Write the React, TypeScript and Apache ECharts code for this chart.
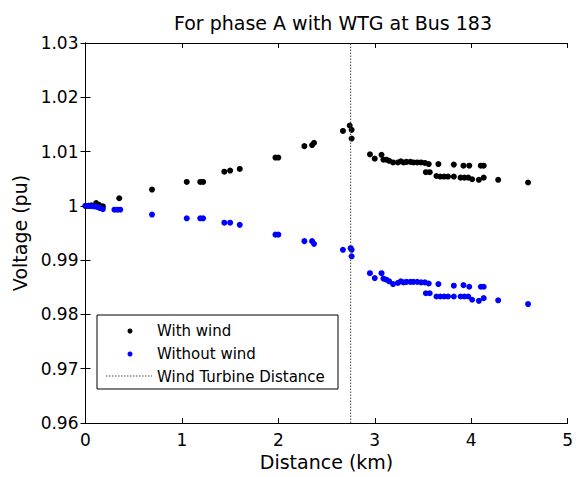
import React, { useEffect, useRef } from "react";
import * as echarts from "echarts";

const titleText = "For phase A with WTG at Bus 183";
const xTitle = "Distance (km)";
const yTitle = "Voltage (pu)";
const turbineDistance = 2.75;

const distWind = [
  0.0, 0.03, 0.06, 0.11, 0.14, 0.18, 0.35, 0.69, 1.05, 1.19, 1.22, 1.44, 1.5, 1.6,
  1.97, 2.0, 2.27, 2.35, 2.37, 2.67, 2.74, 2.76, 2.76, 2.95, 3.0, 3.07, 3.09, 3.12,
  3.15, 3.19, 3.24, 3.27, 3.3, 3.33, 3.37, 3.4, 3.44, 3.48, 3.52, 3.56, 3.53, 3.57,
  3.66, 3.64, 3.68, 3.72, 3.76, 3.82, 3.82, 3.89, 3.92, 3.93, 3.97, 3.98, 4.01, 4.08,
  4.1, 4.13, 4.13, 4.28, 4.59,
];
const voltWind = [
  1.0, 1.0, 1.0001, 1.0005, 1.0002, 0.9999, 1.0014, 1.003, 1.0044, 1.0044, 1.0044,
  1.0063, 1.0065, 1.0068, 1.0089, 1.0089, 1.011, 1.0112, 1.0116, 1.0138, 1.0148,
  1.014, 1.0124, 1.0095, 1.0087, 1.0094, 1.0085, 1.0085, 1.0083, 1.008, 1.008,
  1.0082, 1.008, 1.0081, 1.0081, 1.008, 1.008, 1.008, 1.0079, 1.0077, 1.0062,
  1.0062, 1.0077, 1.0055, 1.0054, 1.0054, 1.0054, 1.0076, 1.0054, 1.0052, 1.0074,
  1.0052, 1.0052, 1.0074, 1.0049, 1.0048, 1.0074, 1.0074, 1.0052, 1.0048, 1.0043,
];

const distNoWind = [
  0.0, 0.03, 0.06, 0.09, 0.12, 0.15, 0.18, 0.3, 0.33, 0.36, 0.69, 1.05, 1.19, 1.22,
  1.44, 1.5, 1.6, 1.97, 2.0, 2.27, 2.35, 2.37, 2.67, 2.75, 2.76, 2.76, 2.95, 3.0,
  3.07, 3.09, 3.12, 3.15, 3.19, 3.24, 3.27, 3.3, 3.33, 3.37, 3.4, 3.44, 3.48, 3.52,
  3.56, 3.53, 3.57, 3.66, 3.64, 3.68, 3.72, 3.76, 3.82, 3.82, 3.89, 3.92, 3.93, 3.97,
  3.98, 4.01, 4.08, 4.1, 4.13, 4.13, 4.28, 4.59,
];
const voltNoWind = [
  1.0, 1.0, 0.99995, 0.9999, 0.9998, 0.9996, 0.9994, 0.9993, 0.9993, 0.9993, 0.9984,
  0.9977, 0.9977, 0.9977, 0.9969, 0.9969, 0.9965, 0.9947, 0.9947, 0.9935, 0.9935,
  0.993, 0.9919, 0.9922, 0.9919, 0.9907, 0.9876, 0.9867, 0.9876, 0.9866, 0.9864,
  0.9861, 0.9856, 0.9858, 0.9861, 0.9859, 0.986, 0.986, 0.986, 0.986, 0.9859,
  0.9859, 0.9857, 0.9839, 0.9839, 0.9856, 0.9833, 0.9833, 0.9833, 0.9833, 0.9853,
  0.9833, 0.9833, 0.9854, 0.9833, 0.9833, 0.9851, 0.9827, 0.9825, 0.9851, 0.9851,
  0.983, 0.9826, 0.9819,
];

const legendLabels = ["With wind", "Without wind", "Wind Turbine Distance"];

const FONT = "DejaVu Sans";

export default function App() {
  const ref = useRef<HTMLDivElement>(null);
  useEffect(() => {
    if (!ref.current) return;
    const chart = echarts.init(ref.current, undefined, { renderer: "svg" });
    const windData = distWind.map((d, i) => [d, voltWind[i]]);
    const noWindData = distNoWind.map((d, i) => [d, voltNoWind[i]]);
    const yFmt = (v: number) => String(parseFloat(v.toFixed(2)));
    const axisLine = { show: true, lineStyle: { color: "#000", width: 1 } };
    const tick = { show: true, inside: true, length: 5, lineStyle: { color: "#000" } };
    const grid = { left: 85.5, right: 5, top: 43, bottom: 54 };
    chart.setOption({
      animation: false,
      backgroundColor: "#fff",
      title: {
        text: titleText,
        left: 328,
        textAlign: "center",
        top: 8,
        textStyle: { fontFamily: FONT, fontSize: 19, fontWeight: "normal", color: "#000" },
      },
      grid,
      xAxis: [
        {
          type: "value", min: 0, max: 5, interval: 1, position: "bottom",
          name: xTitle, nameLocation: "middle", nameGap: 29,
          nameTextStyle: { fontFamily: FONT, fontSize: 19, color: "#000" },
          axisLine, axisTick: tick, splitLine: { show: false },
          axisLabel: { fontFamily: FONT, fontSize: 17, color: "#000", margin: 8 },
        },
        {
          type: "value", min: 0, max: 5, interval: 1, position: "top",
          axisLine, axisTick: tick, splitLine: { show: false }, axisLabel: { show: false },
        },
      ],
      yAxis: [
        {
          type: "value", min: 0.96, max: 1.03, interval: 0.01, position: "left",
          name: yTitle, nameLocation: "middle", nameGap: 55,
          nameTextStyle: { fontFamily: FONT, fontSize: 19, color: "#000" },
          axisLine, axisTick: tick, splitLine: { show: false },
          axisLabel: { fontFamily: FONT, fontSize: 17, color: "#000", margin: 7, formatter: yFmt },
        },
        {
          type: "value", min: 0.96, max: 1.03, interval: 0.01, position: "right",
          axisLine, axisTick: tick, splitLine: { show: false }, axisLabel: { show: false },
        },
      ],
      series: [
        {
          name: legendLabels[0], type: "scatter", data: windData, symbol: "circle",
          symbolSize: 6, itemStyle: { color: "#000", opacity: 1 }, clip: false,
        },
        {
          name: legendLabels[1], type: "scatter", data: noWindData, symbol: "circle",
          symbolSize: 6, itemStyle: { color: "#0000ff", opacity: 1 }, clip: false,
        },
        {
          name: legendLabels[2], type: "line", symbol: "none",
          data: [[turbineDistance, 0.96], [turbineDistance, 1.03]],
          lineStyle: { color: "#444", width: 1, type: [1.5, 1.5] },
        },
      ],
      graphic: [
        {
          type: "rect", shape: { x: 97, y: 315, width: 241, height: 74 },
          style: { fill: "#fff", stroke: "#000", lineWidth: 1 }, z: 100,
        },
        { type: "circle", shape: { cx: 130, cy: 331, r: 2.5 }, style: { fill: "#000" }, z: 101 },
        { type: "circle", shape: { cx: 130, cy: 354, r: 2.5 }, style: { fill: "#0000ff" }, z: 101 },
        {
          type: "line", shape: { x1: 106, y1: 376, x2: 152, y2: 376 },
          style: { stroke: "#444", lineWidth: 1, lineDash: [1.5, 1.5] }, z: 101,
        },
        {
          type: "text", x: 157, y: 331, z: 101,
          style: { text: legendLabels[0], font: `15px '${FONT}'`, fill: "#000", verticalAlign: "middle" },
        },
        {
          type: "text", x: 157, y: 354, z: 101,
          style: { text: legendLabels[1], font: `15px '${FONT}'`, fill: "#000", verticalAlign: "middle" },
        },
        {
          type: "text", x: 157, y: 377, z: 101,
          style: { text: legendLabels[2], font: `15px '${FONT}'`, fill: "#000", verticalAlign: "middle" },
        },
      ],
    });
    return () => chart.dispose();
  }, []);
  return (
    <div
      ref={ref}
      style={{ position: "fixed", left: 0, top: 0, width: 576, height: 477, background: "#fff" }}
    />
  );
}
